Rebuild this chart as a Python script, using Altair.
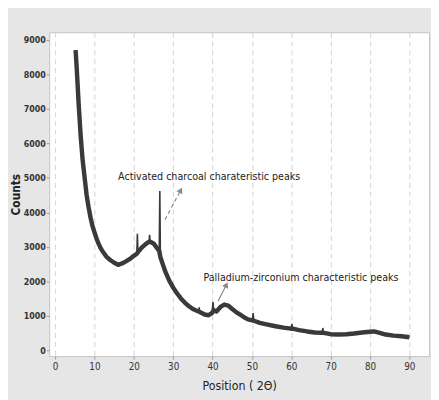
import altair as alt
import pandas as pd

# smooth background of the XRD pattern
base_x = [5.2, 5.5, 6.0, 6.5, 7.0, 7.5, 8.0, 8.5, 9.0, 9.5, 10.0, 10.5, 11.0, 11.5, 12.0,
          12.5, 13.0, 14.0, 15.0, 16.0, 17.0, 18.0, 19.0, 20.0, 20.75, 21.05, 22.0, 23.0,
          23.85, 24.15, 25.0, 25.8, 26.45, 26.75, 27.5, 28.0, 29.0, 30.0, 31.0, 32.0, 33.0,
          34.0, 35.0, 36.0, 36.45, 36.75, 37.0, 38.0, 39.0, 39.9, 40.3, 40.6, 41.0, 42.0,
          43.0, 44.0, 45.0, 46.0, 47.0, 48.0, 49.0, 50.1, 50.5, 52.0, 54.0, 56.0, 58.0,
          59.95, 60.35, 62.0, 64.0, 66.0, 67.85, 68.2, 70.0, 72.0, 74.0, 76.0, 78.0, 80.0,
          81.0, 82.0, 84.0, 86.0, 88.0, 90.0]
base_y = [8700, 8150, 7100, 6200, 5500, 5000, 4500, 4150, 3850, 3600, 3420, 3250, 3100, 2980, 2880,
          2800, 2720, 2620, 2540, 2480, 2520, 2580, 2650, 2740, 2800, 2850, 2980, 3080,
          3150, 3150, 3100, 2980, 2880, 2700, 2450, 2280, 2020, 1820, 1650, 1500, 1380,
          1280, 1200, 1150, 1130, 1110, 1100, 1040, 1020, 1090, 1160, 1150, 1130, 1260,
          1330, 1300, 1200, 1110, 1040, 960, 900, 870, 860, 800, 750, 700, 660,
          630, 630, 590, 550, 520, 510, 510, 470, 460, 470, 490, 520, 540,
          550, 520, 460, 430, 410, 380]

# sharp diffraction peaks
spike_x = [20.9, 24.0, 26.6, 36.6, 40.1, 50.3, 60.15, 68.0]
spike_y = [3380, 3350, 4620, 1250, 1400, 1080, 770, 650]

x_ticks = [0, 10, 20, 30, 40, 50, 60, 70, 80, 90]
y_ticks = [0, 1000, 2000, 3000, 4000, 5000, 6000, 7000, 8000, 9000]

ann_labels = ["Activated charcoal charateristic peaks", "Palladium-zirconium characteristic peaks"]
ann_x = [16.0, 37.7]
ann_y = [5010, 2110]
arrow_x = [27.9, 41.4]
arrow_y = [3787, 1427]
arrow_x2 = [31.9, 43.5]
arrow_y2 = [4640, 1900]
arrow_angle = [27, 26]
arrow_dash = [[4, 3], [1, 0]]

FONT = "DejaVu Sans Condensed, sans-serif"

band = pd.DataFrame({"x": base_x, "y": base_y})
thin = pd.concat([band, pd.DataFrame({"x": spike_x, "y": spike_y})]).sort_values("x")
ann = pd.DataFrame({"x": ann_x, "y": ann_y, "label": ann_labels})

xs = alt.Scale(domain=[-1.5, 95], nice=False, zero=False)
ys = alt.Scale(domain=[-165, 9218], nice=False, zero=False)
xaxis = alt.Axis(values=x_ticks, format="d", grid=True, gridDash=[5, 4], gridColor="#d2d2d2",
                 domain=False, tickColor="#9a9a9a", tickSize=3, labelFont=FONT, labelFontSize=10,
                 labelColor="#333333", labelPadding=3, title="Position ( 2Θ)", titleFont=FONT,
                 titleFontSize=12.5, titleFontWeight="normal", titleColor="#222222", titlePadding=8)
yaxis = alt.Axis(values=y_ticks, format="d", grid=False, domain=False, tickColor="#9a9a9a",
                 tickSize=3, labelFont=FONT, labelFontSize=9, labelFontWeight="bold",
                 labelColor="#333333", labelPadding=1, title="Counts", titleFont=FONT,
                 titleFontSize=12, titleFontWeight="bold", titleColor="#222222", titlePadding=1)
X = alt.X("x:Q", scale=xs, axis=xaxis)
Y = alt.Y("y:Q", scale=ys, axis=yaxis)

band_layer = alt.Chart(band).mark_line(color="#3a3a3a", strokeWidth=4.5, strokeJoin="round").encode(x=X, y=Y)
thin_layer = alt.Chart(thin).mark_line(color="#3a3a3a", strokeWidth=1.6).encode(x=X, y=Y)
text_layer = alt.Chart(ann).mark_text(align="left", baseline="middle", font=FONT, fontSize=10.8,
                                      color="#222222").encode(x=X, y=Y, text="label:N")

arrow_layers = []
for i in range(2):
    d = pd.DataFrame({"x": [arrow_x[i]], "y": [arrow_y[i]], "x2": [arrow_x2[i]], "y2": [arrow_y2[i]]})
    line = alt.Chart(d).mark_rule(color="#8a8a8a", strokeWidth=1.2, strokeDash=arrow_dash[i]).encode(
        x=X, y=Y, x2="x2:Q", y2="y2:Q")
    head = alt.Chart(d).mark_point(shape="triangle-up", filled=True, color="#8a8a8a", size=45,
                                   opacity=1, angle=arrow_angle[i]).encode(
        x=alt.X("x2:Q", scale=xs, axis=xaxis), y=alt.Y("y2:Q", scale=ys, axis=yaxis))
    arrow_layers += [line, head]

chart = alt.layer(band_layer, thin_layer, *arrow_layers, text_layer).properties(
    width=387, height=330,
    autosize=alt.AutoSizeParams(type="none"),
    padding={"left": 42, "top": 21, "right": 2, "bottom": 41},
    background="#e6e6e6",
).configure_view(stroke="#c4c4c4", strokeWidth=1, fill="white")

chart.save("out.html", embed_options={"renderer": "svg", "actions": False})
